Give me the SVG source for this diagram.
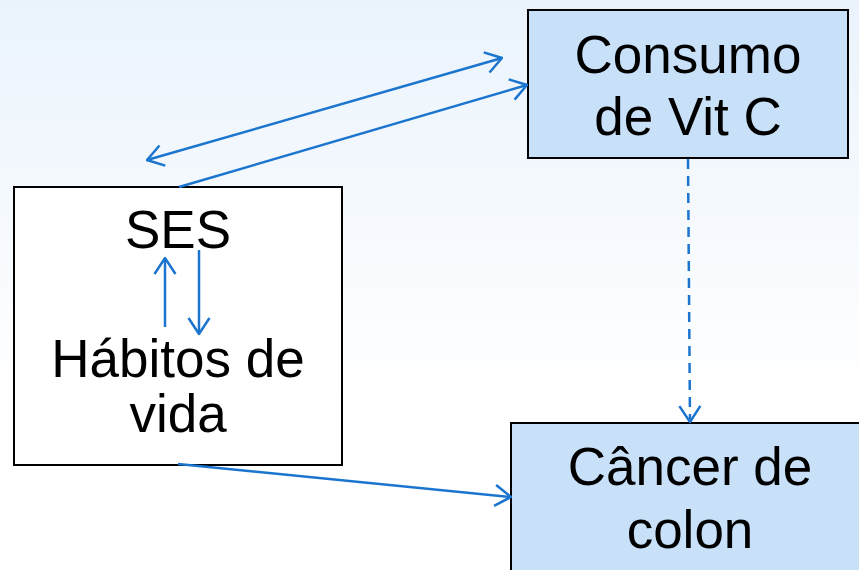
<svg xmlns="http://www.w3.org/2000/svg" width="859" height="570" viewBox="0 0 859 570">
<defs>
<linearGradient id="bg" x1="0" y1="0" x2="0" y2="1">
<stop offset="0" stop-color="#EAF3FC"/>
<stop offset="0.7" stop-color="#FFFFFF"/>
<stop offset="1" stop-color="#FFFFFF"/>
</linearGradient>
<marker id="arr" viewBox="0 0 18 24" refX="17" refY="12" markerWidth="18" markerHeight="24" markerUnits="userSpaceOnUse" orient="auto-start-reverse">
<path d="M1,1.5 L17,12 L1,22.5" fill="none" stroke="#1B75CF" stroke-width="2.5"/>
</marker>
</defs>
<style>
.box{stroke:#000;stroke-width:2}
.blue{fill:#C8E1F9}
.white{fill:#FFFFFF}
.t{font-family:"Liberation Sans",Arial,sans-serif;font-size:53px;fill:#000;text-anchor:middle}
.c{fill:none;stroke:#1B75CF;stroke-width:2.5}
</style>
<rect width="859" height="570" fill="url(#bg)"/>
<g id="consumo">
<rect class="box blue" x="528" y="10" width="320" height="148"/>
<text class="t" x="688" y="73">Consumo</text>
<text class="t" x="688" y="135">de Vit C</text>
</g>
<g id="ses">
<rect class="box white" x="14" y="187" width="328" height="278"/>
<text class="t" x="178" y="248">SES</text>
<text class="t" x="178" y="377">Hábitos de</text>
<text class="t" x="178" y="432">vida</text>
</g>
<g id="cancer">
<rect class="box blue" x="511" y="423" width="360" height="160"/>
<text class="t" x="690" y="485">Câncer de</text>
<text class="t" x="690" y="548">colon</text>
</g>
<g id="connectors">
<line class="c" x1="147" y1="160" x2="502" y2="58" marker-start="url(#arr)" marker-end="url(#arr)"/>
<line class="c" x1="179" y1="187" x2="527" y2="85" marker-end="url(#arr)"/>
<line class="c" x1="165" y1="327" x2="165" y2="258" marker-end="url(#arr)"/>
<line class="c" x1="199" y1="250" x2="199" y2="334" marker-end="url(#arr)"/>
<line class="c" x1="688" y1="159" x2="690" y2="422" stroke-dasharray="10,7" marker-end="url(#arr)"/>
<line class="c" x1="178" y1="464" x2="511" y2="497" marker-end="url(#arr)"/>
</g>
</svg>
